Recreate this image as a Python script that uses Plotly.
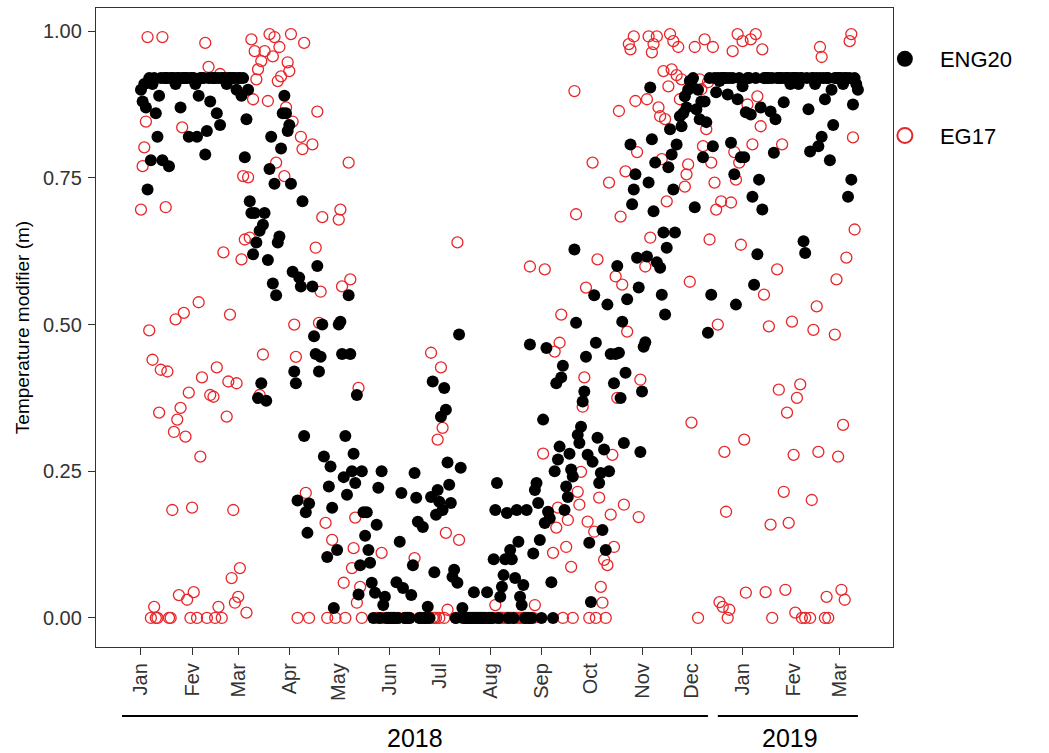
import pandas as pd
import plotly.graph_objects as go

N = None
# ---------------- data (daily values, one list per month) ----------------
months = ["2018-01", "2018-02", "2018-03", "2018-04", "2018-05", "2018-06", "2018-07",
          "2018-08", "2018-09", "2018-10", "2018-11", "2018-12", "2019-01", "2019-02", "2019-03"]

eng20_jan18 = [0.90, 0.88, 0.91, 0.87, 0.73, 0.92, 0.78, 0.91, 0.92, 0.86, 0.82, 0.89, 0.92, 0.78, 0.92, 0.92,
               0.92, 0.77, 0.92, 0.92, 0.92, 0.91, 0.92, 0.92, 0.87, 0.92, 0.92, 0.92, 0.92, 0.82, 0.92]
eng20_feb18 = [0.92, 0.92, 0.91, 0.82, 0.89, 0.92, 0.92, 0.92, 0.79, 0.83, 0.92, 0.88, 0.92, 0.92, 0.92, 0.86,
               0.92, 0.84, 0.92, 0.92, 0.92, 0.91, 0.92, 0.92, 0.92, 0.92, 0.92, 0.90]
eng20_mar18 = [0.92, 0.92, 0.89, 0.92, 0.785, 0.85, 0.90, 0.71, 0.69, 0.62, 0.69, 0.64, 0.375, 0.66, 0.40, 0.67,
               0.69, 0.37, 0.61, 0.765, 0.82, 0.57, 0.74, 0.55, 0.64, 0.65, 0.80, 0.86, 0.89, 0.86, 0.83]
eng20_apr18 = [0.84, 0.74, 0.59, 0.42, 0.40, 0.20, 0.58, 0.565, 0.71, 0.31, 0.18, 0.145, 0.195, N, 0.565, 0.48,
               0.45, 0.60, 0.42, 0.445, 0.50, 0.275, N, 0.104, 0.224, 0.258, 0.188, 0.017, N, 0.116]
eng20_may18 = [0.50, 0.505, 0.45, 0.24, 0.31, 0.21, 0.55, 0.45, 0.25, 0.28, 0.23, 0.38, 0.04, 0.09, 0.25, 0.18,
               0.14, 0.18, 0.116, 0.094, 0.06, 0.0, 0.043, 0.159, 0.222, 0.0, 0.25, 0.022, 0.036, 0.0, 0.0]
eng20_jun18 = [0.0, 0.0, 0.0, 0.0, 0.061, 0.0, 0.13, 0.213, 0.051, 0.0, 0.0, 0.0, 0.0, 0.039, 0.09, 0.247,
               0.205, 0.164, 0.0, 0.0, 0.155, 0.0, 0.0, 0.019, 0.0, 0.206, 0.403, 0.078, 0.176, 0.218]
eng20_jul18 = [0.198, 0.343, 0.184, 0.392, 0.355, 0.265, 0.227, 0.196, 0.07, 0.082, 0.0, 0.06, 0.483, 0.256,
               0.017, 0.0, 0.0, 0.0, 0.0, 0.0, 0.0, 0.044, 0.0, 0.0, 0.0, 0.0, 0.0, 0.0, 0.0, 0.044, 0.0]
eng20_aug18 = [0.0, 0.0, 0.10, 0.184, 0.23, 0.0, 0.036, 0.053, 0.073, 0.10, 0.179, 0.0, 0.116, 0.10, 0.0, 0.068,
               0.184, 0.13, 0.036, 0.022, 0.056, 0.0, 0.184, 0.0, 0.466, 0.0, 0.11, 0.218, 0.23, 0.196, 0.133]
eng20_sep18 = [0.0, 0.338, 0.162, 0.46, 0.181, 0.17, 0.061, 0.0, 0.25, 0.40, 0.27, 0.292, 0.41, 0.43, 0.184,
               0.224, 0.206, 0.28, 0.253, 0.241, 0.628, 0.503, 0.312, 0.298, 0.326, 0.369, 0.386, 0.445, 0.278, 0.128]
eng20_oct18 = [0.027, 0.266, 0.55, 0.469, 0.307, 0.23, 0.247, 0.15, 0.287, 0.116, 0.534, 0.25, 0.45, N, 0.40,
               0.45, 0.60, 0.452, 0.375, 0.505, 0.298, 0.418, 0.543, N, 0.807, 0.705, 0.73, 0.756, 0.614, 0.563, 0.283]
eng20_nov18 = [0.386, 0.462, 0.47, 0.616, 0.742, 0.904, 0.816, 0.693, 0.776, 0.606, N, 0.597, 0.551, 0.657,
               0.517, 0.631, 0.768, 0.833, 0.79, 0.73, 0.657, 0.807, N, 0.855, 0.838, 0.86, 0.889, 0.87, 0.90, 0.915]
eng20_dec18 = [0.915, 0.92, 0.70, 0.867, 0.90, 0.85, 0.88, 0.785, 0.88, 0.845, 0.486, 0.92, 0.551, 0.804, 0.92,
               0.896, 0.92, 0.915, 0.92, 0.92, 0.92, 0.92, 0.892, 0.92, 0.81, 0.92, 0.756, 0.534, 0.884, 0.92, 0.785]
eng20_jan19 = [0.906, 0.785, 0.862, 0.92, 0.92, 0.858, 0.718, 0.568, 0.92, 0.62, 0.747, 0.87, 0.696, 0.92, 0.92,
               0.92, 0.92, 0.863, 0.92, 0.793, 0.85, 0.92, 0.92, 0.92, 0.92, 0.879, 0.92, 0.92, 0.92, 0.91, 0.92]
eng20_feb19 = [0.92, 0.92, 0.92, 0.91, 0.92, 0.92, 0.642, 0.622, 0.92, 0.867, 0.795, 0.92, 0.92, 0.91, 0.92,
               0.804, 0.92, 0.82, 0.92, 0.884, 0.92, 0.92, 0.78, 0.90, 0.84, 0.92, 0.92, 0.92]
eng20_mar19 = [0.92, 0.92, 0.91, 0.92, 0.92, 0.718, 0.92, 0.747, 0.875, 0.92, 0.91, 0.90]

eg17_jan18 = [0.696, 0.77, 0.802, 0.846, 0.99, 0.49, 0.0, 0.44, 0.019, 0.0, 0.0, 0.35, 0.423, 0.99, N, 0.70,
              0.42, 0.0, 0.0, 0.184, 0.317, 0.509, 0.338, 0.039, 0.358, 0.836, 0.52, 0.309, 0.031, 0.384, 0.0]
eg17_feb18 = [0.188, 0.044, N, 0.0, 0.538, 0.275, 0.41, N, 0.98, 0.0, 0.939, 0.38, N, 0.377, 0.0, 0.427, 0.019,
              0.927, 0.0, 0.623, N, 0.343, 0.403, 0.517, 0.068, 0.184, 0.026, 0.40]
eg17_mar18 = [0.036, 0.085, 0.611, 0.753, 0.645, 0.009, 0.751, 0.648, 0.986, 0.884, 0.966, 0.918, 0.935, 0.38,
              0.949, 0.449, 0.966, N, 0.881, 0.995, N, 0.957, 0.99, 0.776, 0.915, 0.973, 0.923, N, 0.753, 0.87, 0.947]
eg17_apr18 = [0.932, 0.995, 0.846, 0.50, 0.445, 0.0, N, 0.82, 0.799, 0.98, 0.213, N, 0.0, N, 0.807, N, 0.631,
              0.863, 0.503, 0.556, 0.683, N, 0.162, 0.0, N, N, 0.133, N, 0.0, N]
eg17_may18 = [0.679, 0.696, 0.565, 0.06, 0.0, N, 0.776, 0.577, 0.085, 0.119, 0.171, 0.026, 0.392, 0.053, 0.0,
              N, N, N, N, N, N, N, N, 0.0, 0.0, N, 0.111, 0.0, N, 0.0, 0.0]
eg17_jun18 = [0.0, 0.0, 0.0, 0.0, N, 0.0, N, N, N, 0.0, 0.0, 0.0, 0.0, N, N, 0.102, N, N, 0.0, 0.0, N, 0.0,
              0.0, 0.0, 0.0, 0.452, 0.0, 0.0, 0.0, 0.304]
eg17_jul18 = [0.0, 0.427, 0.324, 0.0, 0.145, 0.014, N, N, N, N, 0.0, 0.64, 0.133, N, 0.0, 0.0, 0.0, 0.0, 0.0,
              0.0, 0.0, 0.0, 0.0, 0.0, 0.0, 0.0, 0.0, 0.0, 0.0, N, 0.0]
eg17_aug18 = [0.0, 0.0, 0.0, 0.022, 0.0, 0.0, 0.0, 0.0, 0.0, 0.0, 0.0, 0.0, 0.0, 0.0, 0.0, 0.0, 0.0, 0.0, 0.0,
              0.0, 0.0, 0.0, 0.0, 0.0, 0.599, 0.0, 0.0, 0.022, N, N, N]
eg17_sep18 = [N, 0.28, 0.594, N, N, N, N, 0.111, 0.454, 0.154, 0.188, 0.469, 0.517, 0.0, N, 0.121, 0.167, N,
              0.087, 0.0, 0.898, 0.688, 0.215, 0.193, 0.249, 0.36, 0.41, 0.563, 0.164, 0.0]
eg17_oct18 = [N, 0.776, 0.147, 0.0, 0.611, 0.205, 0.053, 0.026, 0.099, 0.0, 0.09, 0.742, 0.176, 0.278, 0.121,
              0.582, 0.375, 0.864, 0.684, 0.568, 0.193, 0.761, 0.488, 0.978, 0.969, N, 0.991, 0.881, 0.794, 0.172, 0.406]
eg17_nov18 = [N, N, 0.599, 0.884, 0.991, 0.648, 0.964, 0.978, N, 0.991, 0.87, 0.855, 0.782, 0.932, 0.85, 0.71,
              0.906, 0.995, 0.935, 0.983, N, 0.925, 0.973, 0.884, 0.918, N, 0.735, 0.756, 0.773, 0.573]
eg17_dec18 = [0.333, N, 0.973, N, 0.0, 0.918, 0.901, 0.804, 0.986, 0.833, 0.913, 0.645, 0.776, 0.973, 0.742,
              0.696, 0.50, 0.027, 0.71, 0.019, 0.283, 0.181, 0.0, 0.014, 0.708, 0.966, 0.794, 0.747, 0.995, 0.776, 0.636]
eg17_jan19 = [0.983, 0.304, 0.043, 0.875, N, 0.986, 0.807, N, 0.995, 0.889, N, 0.838, 0.969, 0.551, 0.044, N,
              0.497, 0.159, 0.0, N, N, 0.594, 0.389, N, 0.807, 0.215, 0.048, 0.35, 0.162, N, 0.505]
eg17_feb19 = [0.278, 0.009, 0.375, N, 0.398, 0.0, N, 0.0, N, N, 0.0, 0.201, 0.491, N, 0.531, 0.283, 0.973,
              0.956, N, 0.0, 0.036, 0.0, N, N, N, 0.483, 0.577, 0.275]
eg17_mar19 = [N, 0.048, 0.329, 0.031, 0.614, N, 0.983, 0.995, 0.819, 0.662, N, N]

eng20_months = [eng20_jan18, eng20_feb18, eng20_mar18, eng20_apr18, eng20_may18, eng20_jun18, eng20_jul18,
                eng20_aug18, eng20_sep18, eng20_oct18, eng20_nov18, eng20_dec18, eng20_jan19, eng20_feb19,
                eng20_mar19]
eg17_months = [eg17_jan18, eg17_feb18, eg17_mar18, eg17_apr18, eg17_may18, eg17_jun18, eg17_jul18,
               eg17_aug18, eg17_sep18, eg17_oct18, eg17_nov18, eg17_dec18, eg17_jan19, eg17_feb19, eg17_mar19]

tick_dates = ["2018-01-01", "2018-02-01", "2018-03-01", "2018-04-01", "2018-05-01", "2018-06-01",
              "2018-07-01", "2018-08-01", "2018-09-01", "2018-10-01", "2018-11-01", "2018-12-01",
              "2019-01-01", "2019-02-01", "2019-03-01"]
tick_labels = ["Jan", "Fev", "Mar", "Apr", "May", "Jun", "Jul", "Aug", "Sep", "Oct", "Nov", "Dec",
               "Jan", "Fev", "Mar"]
y_ticks = [0.0, 0.25, 0.5, 0.75, 1.0]
y_labels = ["0.00", "0.25", "0.50", "0.75", "1.00"]

years = ["2018", "2019"]
year_spans = [("2017-12-20 12:00", "2018-12-11"), ("2018-12-17", "2019-03-12")]
year_label_pos = ["2018-06-16", "2019-01-30"]
x_range = ["2017-12-04 17:00", "2019-04-02 07:00"]


def build(month_lists):
    xs, ys = [], []
    for m, vals in zip(months, month_lists):
        dates = pd.date_range(m + "-01", periods=len(vals), freq="D")
        for d, v in zip(dates, vals):
            if v is not None:
                xs.append(d)
                ys.append(v)
    return xs, ys


eng_x, eng_y = build(eng20_months)
eg_x, eg_y = build(eg17_months)

FONT = "Liberation Sans, Arial, sans-serif"
fig = go.Figure()

# EG17 drawn first, ENG20 drawn on top
fig.add_trace(go.Scatter(x=eg_x, y=eg_y, mode="markers", name="EG17", showlegend=False,
                         marker=dict(symbol="circle-open", size=11, color="#e8262a", line=dict(width=1.3))))
fig.add_trace(go.Scatter(x=eng_x, y=eng_y, mode="markers", name="ENG20", showlegend=False,
                         marker=dict(symbol="circle", size=12, color="black")))
# legend entries
fig.add_trace(go.Scatter(x=[None], y=[None], mode="markers", name="ENG20", legendgroup="a",
                         marker=dict(symbol="circle", size=16, color="black")))
fig.add_trace(go.Scatter(x=[None], y=[None], mode="markers", name="EG17", legendgroup="b",
                         marker=dict(symbol="circle-open", size=15, color="#e8262a", line=dict(width=2))))

fig.update_xaxes(range=x_range, type="date", tickvals=tick_dates, ticktext=tick_labels, tickangle=-90,
                 ticks="outside", ticklen=7, tickcolor="#333", tickwidth=1,
                 tickfont=dict(family=FONT, size=20, color="#333"),
                 showgrid=False, zeroline=False, showline=True, linecolor="#333", linewidth=1.3, mirror=True)
fig.update_yaxes(range=[-0.0495, 1.0395], tickvals=y_ticks, ticktext=y_labels,
                 ticks="outside", ticklen=7, tickcolor="#333", tickwidth=1, ticklabelstandoff=2,
                 tickfont=dict(family=FONT, size=20, color="#333"),
                 title=dict(text="Temperature modifier (m)", font=dict(family=FONT, size=19, color="black"), standoff=8),
                 showgrid=False, zeroline=False, showline=True, linecolor="#333", linewidth=1.3, mirror=True)

for yr, (a, b), lx in zip(years, year_spans, year_label_pos):
    fig.add_shape(type="line", xref="x", yref="paper", x0=a, x1=b, y0=-0.108, y1=-0.108,
                  line=dict(color="black", width=2))
    fig.add_annotation(x=lx, xref="x", y=-0.142, yref="paper", text=yr, showarrow=False,
                       font=dict(family=FONT, size=25, color="black"), yanchor="middle")

fig.update_layout(width=1049, height=753, margin=dict(l=96, r=156, t=8, b=106),
                  paper_bgcolor="white", plot_bgcolor="white",
                  legend=dict(x=0.971, y=0.953, xanchor="left", yanchor="top", traceorder="grouped",
                              itemwidth=60, tracegroupgap=45,
                              font=dict(family=FONT, size=22, color="black"),
                              bgcolor="rgba(0,0,0,0)"))

fig.write_html("out.html")
